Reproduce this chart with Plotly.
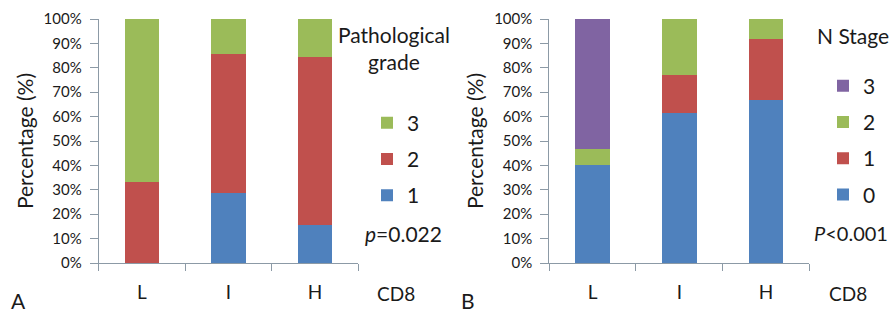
import plotly.graph_objects as go

W, H = 892, 313

categories = ["L", "I", "H"]

# Panel A: Pathological grade (%)
grade_labels = ["1", "2", "3"]
grade_1 = [0.0, 28.6, 15.4]
grade_2 = [33.3, 57.1, 69.2]
grade_3 = [66.7, 14.3, 15.4]

# Panel B: N stage (%)
nstage_labels = ["0", "1", "2", "3"]
nstage_0 = [40.0, 61.5, 66.7]
nstage_1 = [0.0, 15.4, 25.0]
nstage_2 = [6.7, 23.1, 8.3]
nstage_3 = [53.3, 0.0, 0.0]

yticks = [0, 10, 20, 30, 40, 50, 60, 70, 80, 90, 100]
ytick_text = [f"{v}%" for v in yticks]

BLUE, RED, GREEN, PURPLE = "#4F81BD", "#C0504D", "#9BBB59", "#8064A2"
AXC = "#8C9AA6"
FONT = "Lato, Carlito, Calibri, sans-serif"
TXT = "#1a1a1a"

def px(x):
    return x / W

def py(y):
    return 1 - y / H

fig = go.Figure()

n_a = len(grade_labels)
for i, (lab, vals, col) in enumerate(zip(grade_labels, [grade_1, grade_2, grade_3], [BLUE, RED, GREEN])):
    fig.add_trace(go.Bar(x=categories, y=vals, name=lab, marker_color=col,
                         marker_line_width=0, xaxis="x", yaxis="y",
                         legend="legend", legendgroup="a" + lab, legendrank=n_a - i))

n_b = len(nstage_labels)
for i, (lab, vals, col) in enumerate(zip(nstage_labels, [nstage_0, nstage_1, nstage_2, nstage_3],
                                         [BLUE, RED, GREEN, PURPLE])):
    fig.add_trace(go.Bar(x=categories, y=vals, name=lab, marker_color=col,
                         marker_line_width=0, xaxis="x2", yaxis="y2",
                         legend="legend2", legendgroup="b" + lab, legendrank=n_b - i))

ycommon = dict(range=[0, 100], tickvals=yticks, ticktext=ytick_text,
               showline=True, linecolor=AXC, linewidth=1, ticks="outside",
               ticklen=8, tickcolor=AXC, showgrid=False, zeroline=False,
               ticklabelstandoff=5,
               tickfont=dict(family=FONT, size=15, color=TXT),
               title=dict(text="Percentage (%)", font=dict(family=FONT, size=21, color=TXT),
                          standoff=4))
xcommon = dict(range=[-0.5, 2.5], showline=True, linecolor=AXC, linewidth=1,
               ticks="outside", ticklen=7, tickcolor=AXC, tickson="boundaries",
               showgrid=False, zeroline=False, ticklabelstandoff=12,
               tickfont=dict(family=FONT, size=19, color=TXT))

legcommon = dict(xanchor="left", yanchor="middle", traceorder="grouped", tracegroupgap=6,
                 font=dict(family=FONT, size=21, color=TXT),
                 bgcolor="rgba(0,0,0,0)", itemwidth=30, borderwidth=0)

fig.update_layout(
    width=W, height=H,
    margin=dict(l=0, r=0, t=0, b=0, autoexpand=False),
    paper_bgcolor="white", plot_bgcolor="white",
    barmode="stack", bargap=0.6,
    xaxis=dict(domain=[px(98.7), px(358.3)], anchor="y", **xcommon),
    yaxis=dict(domain=[py(263), py(19)], anchor="x", **ycommon),
    xaxis2=dict(domain=[px(549.3), px(809.3)], anchor="y2", **xcommon),
    yaxis2=dict(domain=[py(263), py(19)], anchor="x2", **ycommon),
    legend=dict(x=px(367), y=py(159), **legcommon),
    legend2=dict(x=px(823), y=py(140.5), **legcommon),
    showlegend=True,
)

def note(text, x, y, size=21):
    fig.add_annotation(text=text, x=px(x), y=py(y), xref="paper", yref="paper",
                       xanchor="center", yanchor="middle", showarrow=False,
                       align="center", font=dict(family=FONT, size=size, color=TXT))

note("Pathological<br>grade", 394, 48.5)
note("N Stage", 853, 35)
note("<i>p</i>=0.022", 403.5, 233)
note("<i>P</i><0.001", 851, 233, 20)
note("CD8", 396, 293, 19)
note("CD8", 848, 293, 19)
note("A", 18, 300)
note("B", 468, 300)

fig.write_html("out.html", config={"displayModeBar": False},
               post_script="document.body.style.margin='0';")
